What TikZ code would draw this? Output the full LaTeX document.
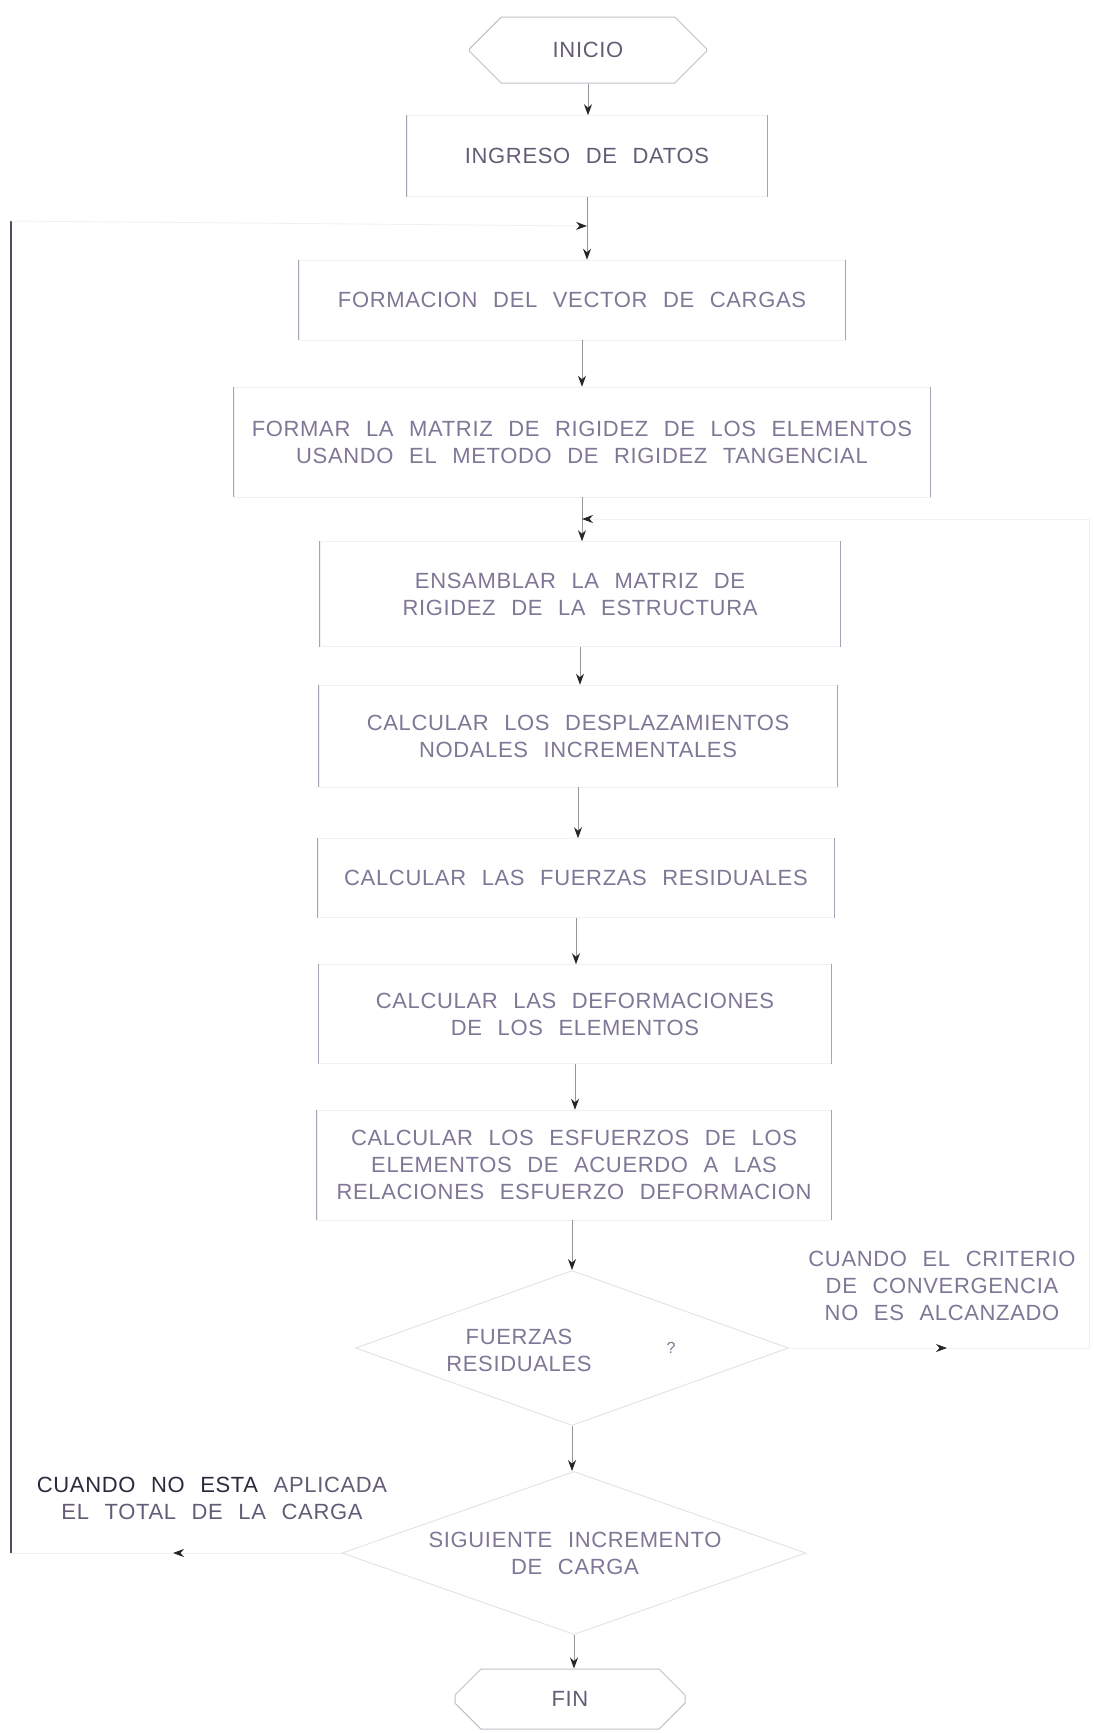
\documentclass[tikz,border=0pt]{standalone}
\usepackage{fontspec}
\setmainfont{Liberation Sans}[LetterSpace=3,WordSpace=2.3]
\usetikzlibrary{arrows.meta,shapes.geometric,shapes.misc}
\definecolor{txtgray}{RGB}{128,118,150}
\definecolor{txtmid}{RGB}{100,92,118}
\definecolor{txtdark}{RGB}{45,40,60}
\definecolor{sidegray}{RGB}{168,162,178}
\definecolor{edgefaint}{RGB}{242,240,245}
\definecolor{shaftgray}{RGB}{150,148,156}
\definecolor{railgray}{RGB}{80,75,95}

\begin{document}
\begin{tikzpicture}[
            x=1pt, y=-1pt,
            every node/.style={text=txtgray, font=\fontsize{22}{27}\selectfont},
            process/.style={rectangle, draw=edgefaint, line width=0.6pt, inner sep=0pt, align=center},
            terminal/.style={chamfered rectangle, chamfered rectangle xsep=17pt, chamfered rectangle ysep=24pt, draw=sidegray!70, line width=1pt, inner sep=0pt, text=txtmid},
            decision/.style={diamond, draw=edgefaint!80!sidegray, line width=0.9pt, inner sep=0pt},
            side/.style={draw=sidegray, line width=1.2pt},
            flow/.style={draw=shaftgray, line width=1pt, -{Stealth[length=11pt, width=8pt, color=black!85]}},
            loopline/.style={draw=edgefaint, line width=0.9pt},
            looparrow/.style={loopline, -{Stealth[length=11pt, width=8pt, color=black!85]}},
            rail/.style={draw=railgray, line width=1.5pt},
            note/.style={align=center}
        ]
        \useasboundingbox (0,0) rectangle (1093,1733);

        % ==========================================
        % MAIN COLUMN
        % ==========================================
        \node[terminal, minimum width=237pt, minimum height=66pt] (inicio) at (588,50) {INICIO};

        \node[process, minimum width=360pt, minimum height=81pt, text=txtmid] (ingreso) at (587,156) {INGRESO DE DATOS};
        \node[process, minimum width=546pt, minimum height=80pt] (vector) at (572,300) {FORMACION DEL VECTOR DE CARGAS};
        \node[process, minimum width=696pt, minimum height=110pt] (matriz) at (582,442) {FORMAR LA MATRIZ DE RIGIDEZ DE LOS ELEMENTOS\\USANDO EL METODO DE RIGIDEZ TANGENCIAL};
        \node[process, minimum width=520pt, minimum height=105pt] (ensamblar) at (580,594) {ENSAMBLAR LA MATRIZ DE\\RIGIDEZ DE LA ESTRUCTURA};
        \node[process, minimum width=518pt, minimum height=102pt] (desplaz) at (578,736) {CALCULAR LOS DESPLAZAMIENTOS\\NODALES INCREMENTALES};
        \node[process, minimum width=516pt, minimum height=79pt] (residual) at (576,878) {CALCULAR LAS FUERZAS RESIDUALES};
        \node[process, minimum width=513pt, minimum height=99pt] (deform) at (575,1014) {CALCULAR LAS DEFORMACIONES\\DE LOS ELEMENTOS};
        \node[process, minimum width=514pt, minimum height=110pt] (esfuerzos) at (574,1165) {CALCULAR LOS ESFUERZOS DE LOS\\ELEMENTOS DE ACUERDO A LAS\\RELACIONES ESFUERZO DEFORMACION};

        % Decisions
        \node[decision, minimum width=433pt, minimum height=155pt] (fr) at (572,1348) {};
        \node[note] (frtext) at (519,1350) {FUERZAS\\RESIDUALES};
        \node[font=\fontsize{16}{20}\selectfont] (frmark) at (671,1348) {?};

        \node[decision, minimum width=464pt, minimum height=163pt] (sig) at (574,1553) {};
        \node[note] (sigtext) at (575,1553) {SIGUIENTE INCREMENTO\\DE CARGA};

        \node[terminal, minimum width=230pt, minimum height=60pt] (fin) at (570,1699) {FIN};

        % Box sides (the top and bottom edges are almost lost)
        \draw[side] (ingreso.north west) -- (ingreso.south west) (ingreso.north east) -- (ingreso.south east);
        \draw[side] (vector.north west) -- (vector.south west) (vector.north east) -- (vector.south east);
        \draw[side] (matriz.north west) -- (matriz.south west) (matriz.north east) -- (matriz.south east);
        \draw[side] (ensamblar.north west) -- (ensamblar.south west) (ensamblar.north east) -- (ensamblar.south east);
        \draw[side] (desplaz.north west) -- (desplaz.south west) (desplaz.north east) -- (desplaz.south east);
        \draw[side] (residual.north west) -- (residual.south west) (residual.north east) -- (residual.south east);
        \draw[side] (deform.north west) -- (deform.south west) (deform.north east) -- (deform.south east);
        \draw[side] (esfuerzos.north west) -- (esfuerzos.south west) (esfuerzos.north east) -- (esfuerzos.south east);

        % Connections
        \draw[flow] (inicio.south) -- (inicio.south |- ingreso.north);
        \draw[flow] (ingreso.south) -- (ingreso.south |- vector.north);
        \draw[flow] (matriz.north |- vector.south) -- (matriz.north);
        \draw[flow] (matriz.south) -- (matriz.south |- ensamblar.north);
        \draw[flow] (ensamblar.south) -- (ensamblar.south |- desplaz.north);
        \draw[flow] (desplaz.south) -- (desplaz.south |- residual.north);
        \draw[flow] (residual.south) -- (residual.south |- deform.north);
        \draw[flow] (deform.south) -- (deform.south |- esfuerzos.north);
        \draw[flow] (fr.north |- esfuerzos.south) -- (fr.north);
        \draw[flow] (fr.south) -- (fr.south |- sig.north);
        \draw[flow] (sig.south) -- (sig.south |- fin.north);

        % ==========================================
        % RIGHT LOOP: convergence not reached
        % ==========================================
        \coordinate (rjoin) at (582,519);
        \coordinate (rarrow) at (947,1348);
        \coordinate (rright) at (1089,1348);
        \coordinate (rtop) at (1089,519);
        \node[note] (crit) at (942,1286) {CUANDO EL CRITERIO\\DE CONVERGENCIA\\NO ES ALCANZADO};
        \draw[looparrow] (fr.east) -- (rarrow);
        \draw[loopline] (rarrow) -- (rright) -- (rtop);
        \draw[looparrow] (rtop) -- (rjoin);

        % ==========================================
        % LEFT LOOP: load not fully applied
        % ==========================================
        \coordinate (ljoin) at (587,226);
        \coordinate (larrow) at (173,1553);
        \coordinate (lleft) at (11,1553);
        \coordinate (ltop) at (11,221);
        \node[note, text=txtmid] (carga) at (212,1498) {{\color{txtdark}CUANDO NO ESTA} APLICADA\\EL TOTAL DE LA CARGA};
        \draw[looparrow] (sig.west) -- (larrow);
        \draw[loopline] (larrow) -- (lleft);
        \draw[rail] (lleft) -- (ltop);
        \draw[looparrow] (ltop) -- (ljoin);

        \end{tikzpicture}
\end{document}
